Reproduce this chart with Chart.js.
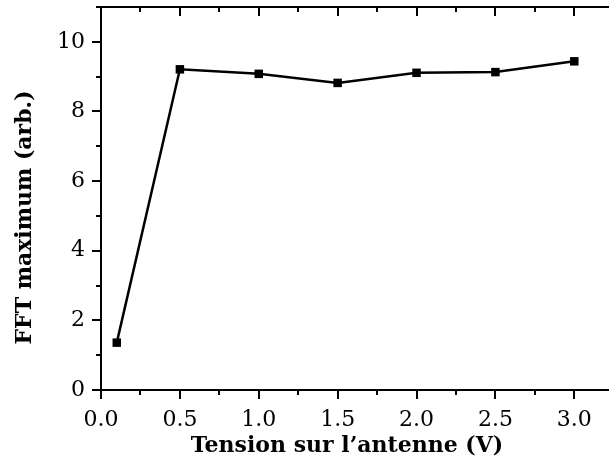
<!DOCTYPE html>
<html>
<head>
<meta charset="utf-8">
<style>
  html, body { margin: 0; padding: 0; background: #fff; }
  #wrap { width: 609px; height: 459px; }
</style>
<script src="https://cdn.jsdelivr.net/npm/chart.js@4/dist/chart.umd.min.js"></script>
</head>
<body>
<div id="wrap"><canvas id="fftChart" width="609" height="459"></canvas></div>
<script>
// tension (V) vs max FFT amplitude
const tensionValues = [0.1, 0.5, 1.0, 1.5, 2.0, 2.5, 3.0];
const fftValues = [1.36, 9.21, 9.08, 8.82, 9.11, 9.13, 9.44];

const xMin = 0, xMax = 3.22, xStep = 0.25;
const yMin = 0, yMax = 11, yStep = 1;

const xTitle = "Tension sur l\u2019antenne (V)";
const yTitle = "FFT maximum (arb.)";

const FONT = "'DejaVu Serif', serif";

function isMultiple(v, step) {
    return Math.abs(v / step - Math.round(v / step)) < 1e-6;
}

// frame top line, tick marks and axis titles like the original plot
const frameTicks = {
    id: "frameTicks",
    afterDraw(chart) {
        const ctx = chart.ctx;
        const area = chart.chartArea;
        const xs = chart.scales.x;
        const ys = chart.scales.y;
        ctx.save();
        ctx.strokeStyle = "#000";
        ctx.lineWidth = 2;
        ctx.beginPath();
        ctx.moveTo(area.left - 1, area.top);
        ctx.lineTo(area.right, area.top);
        ctx.stroke();

        ctx.beginPath();
        xs.ticks.forEach((t) => {
            if (!isMultiple(t.value, xStep)) return;
            const px = Math.round(xs.getPixelForValue(t.value));
            const len = isMultiple(t.value, 0.5) ? 9 : 5;
            ctx.moveTo(px, area.bottom);
            ctx.lineTo(px, area.bottom + len);
            ctx.moveTo(px, area.top);
            ctx.lineTo(px, area.top + len);
        });
        ys.ticks.forEach((t) => {
            const py = Math.round(ys.getPixelForValue(t.value));
            const len = isMultiple(t.value, 2) ? 9 : 5;
            ctx.moveTo(area.left, py);
            ctx.lineTo(area.left - len, py);
        });
        ctx.stroke();

        // titles sit a bit off-centre in the original
        ctx.fillStyle = "#000";
        ctx.font = "bold 22px " + FONT;
        ctx.textAlign = "center";
        ctx.textBaseline = "middle";
        ctx.fillText(xTitle, (area.left + area.right) / 2 - 8, area.bottom + 56);
        ctx.translate(25, (area.top + area.bottom) / 2 + 19);
        ctx.rotate(-Math.PI / 2);
        ctx.fillText(yTitle, 0, 0);
        ctx.restore();
    }
};

new Chart(document.getElementById("fftChart"), {
    type: "scatter",
    data: {
        datasets: [{
            data: tensionValues.map((x, i) => ({ x: x, y: fftValues[i] })),
            showLine: true,
            borderColor: "#000",
            borderWidth: 2.5,
            backgroundColor: "#000",
            pointStyle: "rect",
            pointRadius: 6,
            pointBorderWidth: 0,
            tension: 0
        }]
    },
    options: {
        responsive: false,
        animation: false,
        layout: { autoPadding: false, padding: { top: 7, right: 0, left: 0, bottom: 0 } },
        plugins: {
            legend: { display: false },
            tooltip: { enabled: false }
        },
        scales: {
            x: {
                type: "linear",
                min: xMin,
                max: xMax,
                afterFit: (s) => {
                    s.height = 69;
                    s.paddingLeft = 0;
                    s.paddingRight = 0;
                },
                border: { display: true, color: "#000", width: 2 },
                grid: { drawOnChartArea: false, drawTicks: false },
                ticks: {
                    stepSize: xStep,
                    includeBounds: false,
                    autoSkip: false,
                    maxRotation: 0,
                    padding: 17,
                    color: "#000",
                    font: { family: FONT, size: 22 },
                    callback: (v) => isMultiple(v, 0.5) ? v.toFixed(1) : ""
                }
            },
            y: {
                type: "linear",
                min: yMin,
                max: yMax,
                afterFit: (s) => {
                    s.width = 101;
                    s.paddingTop = 0;
                    s.paddingBottom = 0;
                },
                border: { display: true, color: "#000", width: 2 },
                grid: { drawOnChartArea: false, drawTicks: false },
                ticks: {
                    stepSize: yStep,
                    includeBounds: false,
                    autoSkip: false,
                    padding: 16,
                    color: "#000",
                    font: { family: FONT, size: 22 },
                    callback: (v) => isMultiple(v, 2) ? String(v) : ""
                }
            }
        }
    },
    plugins: [frameTicks]
});
</script>
</body>
</html>
